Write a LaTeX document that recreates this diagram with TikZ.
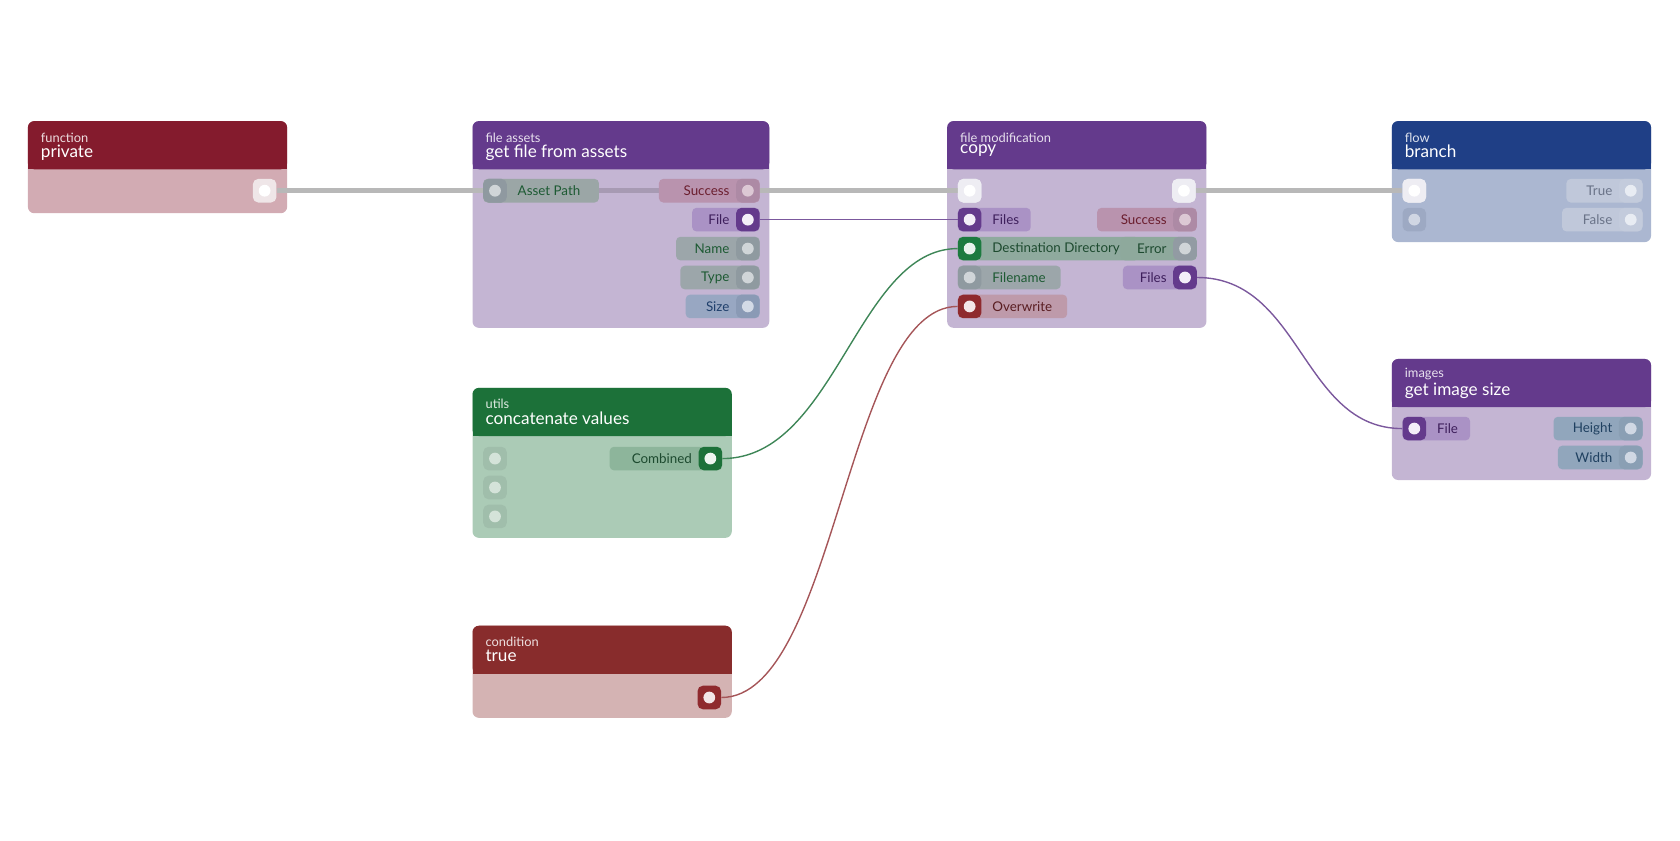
\documentclass[tikz,border=0pt]{standalone}
\usepackage{fontspec}
\setmainfont{Lato}
\usetikzlibrary{positioning}
% colour kinds: <kind>P pill, <kind>Q port, <kind>T text, <kind>D dot
\definecolor{apP}{HTML}{9BA6A6}\definecolor{apQ}{HTML}{8F99A0}\definecolor{apT}{HTML}{1D5A33}\definecolor{apD}{HTML}{D0D5D8}
\definecolor{suP}{HTML}{B993AE}\definecolor{suQ}{HTML}{AD8AA5}\definecolor{suT}{HTML}{6B1E2E}\definecolor{suD}{HTML}{DCC8D4}
\definecolor{fiP}{HTML}{AA92C5}\definecolor{fiQ}{HTML}{643A8C}\definecolor{fiT}{HTML}{3E1F5C}\definecolor{fiD}{HTML}{F3EEF8}
\definecolor{grP}{HTML}{9CA6AA}\definecolor{grQ}{HTML}{8F9AA0}\definecolor{grT}{HTML}{1D5A33}\definecolor{grD}{HTML}{D0D5D8}
\definecolor{siP}{HTML}{98A7C2}\definecolor{siQ}{HTML}{8A9AB5}\definecolor{siT}{HTML}{1F3F6B}\definecolor{siD}{HTML}{D3DAE6}
\definecolor{dgP}{HTML}{8FAA9E}\definecolor{dgQ}{HTML}{1C7A3F}\definecolor{dgT}{HTML}{1D4A2F}\definecolor{dgD}{HTML}{E8F2EC}
\definecolor{rdP}{HTML}{BE9AAA}\definecolor{rdQ}{HTML}{8F2A2E}\definecolor{rdT}{HTML}{5A1E22}\definecolor{rdD}{HTML}{F3E6E8}
\definecolor{erP}{HTML}{8EA99C}\definecolor{erQ}{HTML}{929BA3}\definecolor{erT}{HTML}{1D4A2F}\definecolor{erD}{HTML}{D0D5D8}
\definecolor{cbP}{HTML}{8DB59B}\definecolor{cbQ}{HTML}{1C7139}\definecolor{cbT}{HTML}{1D4A2F}\definecolor{cbD}{HTML}{EEF5F0}
\definecolor{brP}{HTML}{C0C8DA}\definecolor{brQ}{HTML}{C3CBDC}\definecolor{brT}{HTML}{6A7388}\definecolor{brD}{HTML}{E8ECF3}
\definecolor{hwP}{HTML}{91A6BC}\definecolor{hwQ}{HTML}{8A9FB4}\definecolor{hwT}{HTML}{1F4060}\definecolor{hwD}{HTML}{D0D8E4}
\definecolor{exQ}{HTML}{EEEDF3}\definecolor{exD}{HTML}{FFFFFF}
\definecolor{bgQ}{HTML}{9DA9C3}\definecolor{bgD}{HTML}{D0D6E3}
\definecolor{cvQ}{HTML}{A0BEAB}\definecolor{cvD}{HTML}{D4E3D9}
\definecolor{prQ}{HTML}{EFE6E8}\definecolor{prD}{HTML}{FFFFFF}
% node colours
\definecolor{purH}{HTML}{643A8C}\definecolor{purB}{HTML}{C4B5D3}
\definecolor{priH}{HTML}{841B2D}\definecolor{priB}{HTML}{D2ABB3}
\definecolor{bluH}{HTML}{1F3F86}\definecolor{bluB}{HTML}{ABB7D1}
\definecolor{grnH}{HTML}{1C7139}\definecolor{grnB}{HTML}{ABCBB6}
\definecolor{redH}{HTML}{882C2C}\definecolor{redB}{HTML}{D4B3B3}
\tikzset{
  port/.style={minimum size=22pt,inner sep=0pt,rounded corners=5pt,fill=#1Q,
    path picture={\fill[#1D] (path picture bounding box.center) circle (5.5pt);}},
  pinlabel/.style={font=\fontsize{12.5}{15}\selectfont,inner sep=0pt},
  wire/.style={line width=1.3pt},
  exec/.style={line width=5pt,color=black!28},
}
% a node box: name, left, right, top, bottom, colour, category, title
\newcommand{\flowbox}[8]{
  \fill[#6B,rounded corners=6pt] (#2,#4) rectangle (#3,#5);
  \fill[#6H,rounded corners=6pt] (#2,#4) rectangle (#3,#4+45);
  \fill[#6H] (#2,#4+20) rectangle (#3,#4+45);
  \node[anchor=south west,inner sep=0pt,text=white!85!#6H,font=\fontsize{12}{12}\selectfont] (#1cat) at (#2+12,#4+20) {#7};
  \node[anchor=north west,inner sep=0pt,text=white,font=\fontsize{16}{16}\selectfont] (#1) at (#2+12,#4+22) {#8};
}
% output pin: name, left x, right x, y, kind, label
\newcommand{\outpin}[6]{
  \fill[#5P,rounded corners=4pt] (#2,#4-11) rectangle (#3,#4+11);
  \node[port=#5] (#1) at (#3-11,#4) {};
  \node[pinlabel,text=#5T,anchor=east] at (#3-28,#4) {#6};
}
% input pin: name, left x, right x, y, kind, label
\newcommand{\inpin}[6]{
  \fill[#5P,rounded corners=4pt] (#2,#4-11) rectangle (#3,#4+11);
  \node[port=#5] (#1) at (#2+11,#4) {};
  \node[pinlabel,text=#5T,anchor=west] at (#2+32,#4) {#6};
}
\begin{document}
\begin{tikzpicture}[x=1pt,y=-1pt]
\useasboundingbox (0,0) rectangle (1568,784);

% boxes
\flowbox{private}{26}{268}{113}{199}{pri}{function}{private}
\flowbox{getfile}{441}{718}{113}{306}{pur}{file assets}{get file from assets}
\flowbox{copy}{884}{1126}{113}{306}{pur}{file modification}{copy}
\flowbox{branch}{1299}{1541}{113}{226}{blu}{flow}{branch}
\flowbox{imgsize}{1299}{1541}{335}{448}{pur}{images}{get image size}
\flowbox{concat}{441}{683}{362}{502}{grn}{utils}{concatenate values}
\flowbox{cond}{441}{683}{584}{670}{red}{condition}{true}

% exec wires (behind pins)
\node[port=pr] (privout) at (247,178) {};
\node[port=ap] (assetin) at (462,178) {};
\node[port=ex] (copyin) at (905,178) {};
\node[port=ex] (copyout) at (1105,178) {};
\node[port=ex] (brin) at (1320,178) {};
\draw[exec] (privout.east) -- (assetin.west);
\draw[exec] (697,178) -- (copyin.west);
\draw[exec] (copyout.east) -- (brin.west);
\draw[line width=5pt,color=purB!85!black] (559,178) -- (615,178);

% get file from assets
\inpin{assetpath}{451}{559}{178}{ap}{Asset Path}
\outpin{gfsucc}{615}{709}{178}{su}{Success}
\outpin{gffile}{646}{709}{205}{fi}{File}
\outpin{gfname}{631}{709}{232}{gr}{Name}
\outpin{gftype}{635}{709}{259}{gr}{Type}
\outpin{gfsize}{640}{709}{286}{si}{Size}

% copy
\node[port=ex] at (905,178) {};
\node[port=ex] at (1105,178) {};
\inpin{cpfiles}{894}{962}{205}{fi}{Files}
\inpin{cpdest}{894}{1063}{232}{dg}{Destination Directory}
\inpin{cpname}{894}{990}{259}{gr}{Filename}
\inpin{cpover}{894}{996}{286}{rd}{Overwrite}
\outpin{cpsucc}{1024}{1117}{205}{su}{Success}
\outpin{cperr}{1046}{1117}{232}{er}{Error}
\outpin{cpout}{1048}{1117}{259}{fi}{Files}

% branch
\node[port=ex] at (1320,178) {};
\node[port=bg] (brcond) at (1320,205) {};
\outpin{brtrue}{1462}{1533}{178}{br}{True}
\outpin{brfalse}{1458}{1533}{205}{br}{False}

% get image size
\inpin{imgfile}{1309}{1372}{400}{fi}{File}
\outpin{imgh}{1450}{1533}{400}{hw}{Height}
\outpin{imgw}{1454}{1533}{427}{hw}{Width}

% concatenate values
\outpin{combined}{569}{674}{428}{cb}{Combined}
\foreach \y in {428,455,482}
  \node[port=cv] at (462,\y) {};

% condition
\node[port=rd] (truout) at (662,651) {};

% data wires
\draw[wire,color=fiQ!85!white] (gffile.east) -- (cpfiles.west);
\draw[wire,color=cbQ!85!white] (combined.east) .. controls (780,428) and (800,232) .. (cpdest.west);
\draw[wire,color=rdQ!80!white] (truout.east) .. controls (780,651) and (790,286) .. (cpover.west);
\draw[wire,color=fiQ!85!white] (cpout.east) .. controls (1215,259) and (1215,400) .. (imgfile.west);

\end{tikzpicture}
\end{document}
